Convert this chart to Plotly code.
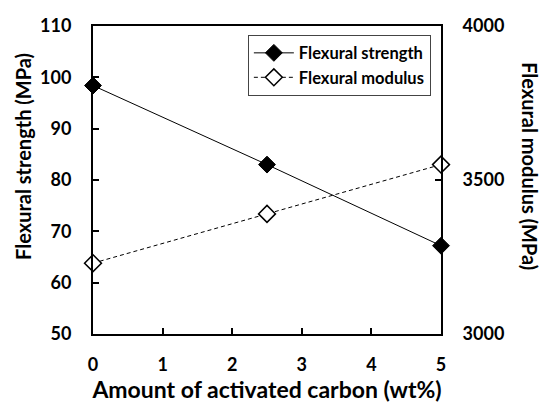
import plotly.graph_objects as go

carbon = [0, 2.5, 5]
strength = [98.4, 83.0, 67.2]
modulus = [3230, 3390, 3550]

x_ticks = [0, 1, 2, 3, 4, 5]
left_ticks = [50, 60, 70, 80, 90, 100, 110]
right_ticks = [3000, 3500, 4000]

FONT = "Lato"

fig = go.Figure()
fig.add_trace(go.Scatter(
    x=carbon, y=strength, name="Flexural strength", mode="lines+markers",
    line=dict(color="black", width=1),
    marker=dict(symbol="diamond", size=13, color="black", line=dict(color="black", width=1)),
    cliponaxis=False,
))
fig.add_trace(go.Scatter(
    x=carbon, y=modulus, name="Flexural modulus", mode="lines+markers", yaxis="y2",
    line=dict(color="black", width=1, dash="4px,3px"),
    marker=dict(symbol="diamond", size=13, color="white", line=dict(color="black", width=1.5)),
    cliponaxis=False,
))

axis_common = dict(
    showgrid=False, zeroline=False, linecolor="black", linewidth=2,
    ticks="inside", ticklen=6, tickwidth=1.5, tickcolor="black", automargin=False,
    tickfont=dict(family=FONT, size=18, color="black", weight="bold"),
)

title_font = dict(family=FONT, size=20, color="black", weight="bold")

fig.update_layout(
    width=544, height=403,
    margin=dict(l=93, r=103, t=26, b=69),
    paper_bgcolor="white", plot_bgcolor="white",
    showlegend=True,
    legend=dict(
        x=0.445, y=0.972, xanchor="left", yanchor="top",
        bordercolor="#444", borderwidth=1, bgcolor="white",
        font=dict(family=FONT, size=16.5, color="black", weight="bold"),
        tracegroupgap=0, itemwidth=40,
    ),
    xaxis=dict(
        range=[0, 5], tickvals=x_ticks, mirror=True, ticklabelstandoff=13,
        title=dict(text="Amount of activated carbon (wt%)", standoff=15,
                   font=dict(family=FONT, size=23, color="black", weight="bold")),
        **axis_common,
    ),
    yaxis=dict(
        range=[50, 110], tickvals=left_ticks, ticklabelstandoff=16,
        **axis_common,
    ),
    yaxis2=dict(
        range=[3000, 4000], tickvals=right_ticks, overlaying="y", side="right",
        ticklabelstandoff=16,
        **axis_common,
    ),
    annotations=[
        dict(
            text="Flexural strength (MPa)", textangle=-90, xref="paper", yref="paper",
            x=0.0, y=0.575, xanchor="center", yanchor="middle", xshift=-70,
            showarrow=False, font=title_font,
        ),
        dict(
            text="Flexural modulus (MPa)", textangle=90, xref="paper", yref="paper",
            x=1.0, y=0.545, xanchor="center", yanchor="middle", xshift=89,
            showarrow=False, font=title_font,
        ),
    ],
)

fig.write_html(
    "out.html",
    config={"displayModeBar": False},
    post_script="document.body.style.margin='0';document.body.style.overflow='hidden';",
)
